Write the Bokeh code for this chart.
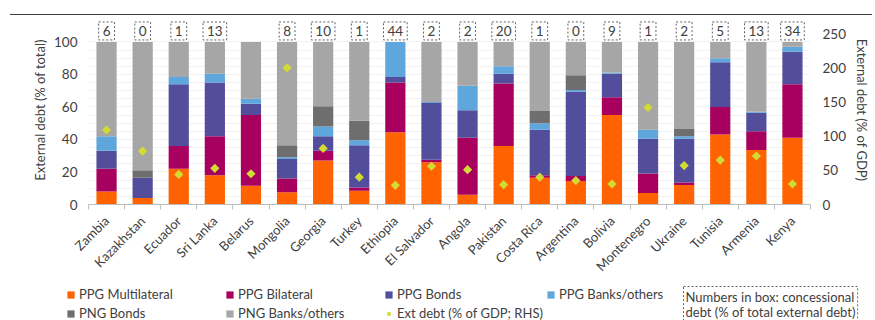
import math
from bokeh.plotting import figure
from bokeh.layouts import column
from bokeh.models import (ColumnDataSource, FixedTicker, LinearAxis, Range1d, Legend, LegendItem,
                          Label, Div)
from bokeh.embed import file_html
from bokeh.resources import INLINE

countries = ["Zambia", "Kazakhstan", "Ecuador", "Sri Lanka", "Belarus", "Mongolia", "Georgia",
             "Turkey", "Ethiopia", "El Salvador", "Angola", "Pakistan", "Costa Rica", "Argentina",
             "Bolivia", "Montenegro", "Ukraine", "Tunisia", "Armenia", "Kenya"]
ppg_multilateral = [8, 4, 22, 18, 11.5, 7.5, 27, 8.5, 44.5, 26, 6, 36, 16.5, 14.5, 55, 7, 12, 43, 33.5, 41]
ppg_bilateral = [14, 0, 14, 24, 43.5, 8.5, 6, 2, 30.5, 1.5, 35, 38.5, 1.5, 3, 11, 12, 1.5, 17, 11.5, 33]
ppg_bonds = [11, 12.5, 38, 33, 7, 12, 9, 26, 3.5, 35, 17, 6, 28, 52, 14.5, 21.5, 27, 27.5, 11.5, 20]
ppg_banks = [9, 0, 4.5, 5.5, 3, 1, 6, 3, 21.5, 0.5, 15, 4.5, 4, 1, 0.5, 5.5, 1.5, 2.5, 0.5, 3]
png_bonds = [0, 4.5, 0, 0, 0, 7.5, 12.5, 12, 0, 0, 0, 0, 7.5, 9, 0, 0, 4.5, 0, 0, 0]
png_banks = [58, 79, 21.5, 19.5, 35, 63.5, 39.5, 48.5, 0, 37, 27, 15, 42.5, 20.5, 19, 54, 53.5, 10, 43, 3]
ext_debt_gdp = [109, 78, 44, 53, 45, 200, 82, 40, 28, 56, 51, 29, 40, 35, 30, 142, 57, 65, 71, 30]
concessional = ["6", "0", "1", "13", "", "8", "10", "1", "44", "2", "2", "20", "1", "0", "9", "1", "2", "5", "13", "34"]

left_ticks = [0, 20, 40, 60, 80, 100]
right_ticks = [0, 50, 100, 150, 200, 250]

series_names = ["PPG Multilateral", "PPG Bilateral", "PPG Bonds", "PPG Banks/others",
                "PNG Bonds", "PNG Banks/others"]
ext_name = "Ext debt (% of GDP; RHS)"
note_text = "Numbers in box: concessional\ndebt (% of total external debt)"
series_keys = ["mult", "bil", "bonds", "banks", "pngb", "pngo"]
colors = ["#FF6200", "#A8005F", "#524E9C", "#5FA6DD", "#6E6E6E", "#A6A6A6"]
DIAMOND = "#D2DB34"
FONT = "Lato"
TXT = "#404040"
W = 875


def no_align(fig):
    try:
        fig.frame_align = False
    except AttributeError:
        pass


# ---- top rule ----
rule = Div(text='<div style="height:1px;width:862px;background:#404040;margin:0;padding:0;"></div>',
           width=862, height=1, margin=(14, 3, 0, 10),
           styles={"background-color": "#404040", "overflow": "hidden"})

# ---- main chart ----
xs = [i + 0.5 for i in range(len(countries))]
src = ColumnDataSource(dict(x=xs, mult=ppg_multilateral, bil=ppg_bilateral, bonds=ppg_bonds,
                            banks=ppg_banks, pngb=png_bonds, pngo=png_banks, ext=ext_debt_gdp))

p = figure(width=W, height=267, output_backend="svg", toolbar_location=None,
           x_range=Range1d(0, len(countries)), y_range=Range1d(0, 116.3),
           min_border_left=88, min_border_right=65, min_border_top=0, min_border_bottom=77)
p.extra_y_ranges = {"right": Range1d(0, 276.6)}
p.outline_line_color = None
no_align(p)

rs = p.vbar_stack(series_keys, x="x", width=0.56, color=colors, line_color=None, source=src)
sc = p.scatter(x="x", y="ext", y_range_name="right", source=src, marker="square", angle=math.pi / 4,
               size=6.5, fill_color=DIAMOND, line_color=None)

xa = p.xaxis[0]
xa.ticker = FixedTicker(ticks=xs, minor_ticks=list(range(len(countries) + 1)))
xa.major_label_overrides = {x: c for x, c in zip(xs, countries)}
xa.major_label_orientation = math.pi / 4
xa.major_tick_line_color = None
xa.major_tick_out = 0
xa.major_tick_in = 0
xa.minor_tick_line_color = "#BFBFBF"
xa.minor_tick_in = 0
xa.minor_tick_out = 5
xa.axis_line_color = "#BFBFBF"
xa.major_label_text_font = FONT
xa.major_label_text_font_size = "13px"
xa.major_label_text_color = TXT
xa.major_label_standoff = 9

ya = p.yaxis[0]
ya.ticker = FixedTicker(ticks=left_ticks)
ya.axis_line_color = None
ya.major_tick_line_color = None
ya.major_tick_out = 0
ya.major_tick_in = 0
ya.minor_tick_line_color = None
ya.major_label_text_font = FONT
ya.major_label_text_font_size = "13.5px"
ya.major_label_text_color = TXT
ya.major_label_standoff = 11
ya.axis_label = "External debt (% of total)"
ya.axis_label_text_font = FONT
ya.axis_label_text_font_style = "normal"
ya.axis_label_text_font_size = "13px"
ya.axis_label_text_color = TXT
ya.axis_label_standoff = 3

ra = LinearAxis(y_range_name="right", ticker=FixedTicker(ticks=right_ticks))
ra.axis_line_color = None
ra.major_tick_line_color = None
ra.major_tick_out = 0
ra.major_tick_in = 0
ra.minor_tick_line_color = None
ra.major_label_text_font = FONT
ra.major_label_text_font_size = "13.5px"
ra.major_label_text_color = TXT
ra.major_label_standoff = 12
ra.axis_label = "External debt (% of GDP)"
ra.axis_label_text_font = FONT
ra.axis_label_text_font_style = "normal"
ra.axis_label_text_font_size = "13px"
ra.axis_label_text_color = TXT
ra.axis_label_standoff = 5
p.add_layout(ra, "right")

p.xgrid.grid_line_color = None
p.ygrid.ticker = FixedTicker(ticks=list(range(5, 101, 5)))
p.ygrid.grid_line_color = "#F2F2F2"

for x, t in zip(xs, concessional):
    if t == "":
        continue
    p.add_layout(Label(x=x, y=106.8, text=t, text_align="center", text_baseline="middle",
                       text_font=FONT, text_font_size="13.5px", text_color=TXT,
                       border_line_color="#606060", border_line_dash="2 2", border_line_width=1,
                       background_fill_color="white", padding=4))

# ---- legend strip ----
lf = figure(width=W, height=38, output_backend="svg", toolbar_location=None,
            x_range=Range1d(0, 20), y_range=Range1d(-1000, -900), x_axis_location=None,
            y_axis_location=None, min_border=0, outline_line_color=None)
lf.grid.visible = False
no_align(lf)
leg_r = {}
for n, k, c in zip(series_names, series_keys, colors):
    leg_r[n] = lf.vbar(x="x", top=k, width=0.56, color=c, line_color=None, source=src, visible=False)
leg_r[ext_name] = lf.scatter(x="x", y="ext", source=src, marker="square", angle=math.pi / 4,
                             fill_color=DIAMOND, line_color=None, visible=False)
# column-major fill: row 1 = PPG series, row 2 = PNG series + Ext debt
order = ["PPG Multilateral", "PNG Bonds", "PPG Bilateral", "PNG Banks/others",
         "PPG Bonds", ext_name, "PPG Banks/others"]
items = [LegendItem(label=n, renderers=[leg_r[n]]) for n in order]
leg = Legend(items=items, ncols=4, location=(66, -1), padding=0, margin=0,
             border_line_color=None, background_fill_alpha=0, glyph_width=9, glyph_height=9,
             label_height=16, spacing=3, label_standoff=4, label_width=143,
             label_text_font=FONT, label_text_font_size="13px", label_text_color=TXT)
lf.add_layout(leg)
lf.add_layout(Label(x=683, y=34, x_units="screen", y_units="screen", text=note_text,
                    text_align="left", text_baseline="top", text_font=FONT, text_font_size="13px",
                    text_line_height=0.95, text_color=TXT, border_line_color="#606060",
                    border_line_dash="2 2", padding=2))

layout = column(rule, p, lf, spacing=0)
open("out.html", "w").write(file_html(layout, INLINE))
